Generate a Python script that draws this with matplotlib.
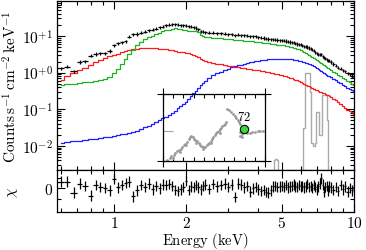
import numpy as np
import matplotlib
matplotlib.use('Agg')
import matplotlib.pyplot as plt
from matplotlib.ticker import FixedLocator, FuncFormatter, NullFormatter, LogLocator

plt.rcParams['mathtext.fontset'] = 'cm'
plt.rcParams['font.family'] = 'serif'
plt.rcParams['font.serif'] = ['DejaVu Serif']

# ---------------- data ----------------
energy = [0.60, 0.64, 0.68, 0.72, 0.76, 0.80, 0.84, 0.88, 0.92, 0.96,
          1.00, 1.04, 1.08, 1.12, 1.16, 1.20, 1.25, 1.30, 1.35, 1.40,
          1.45, 1.50, 1.55, 1.60, 1.65, 1.70, 1.75, 1.80, 1.85, 1.90,
          1.95, 2.00, 2.05, 2.10, 2.15, 2.20, 2.25, 2.30, 2.35, 2.40,
          2.50, 2.60, 2.70, 2.80, 2.90, 3.00, 3.10, 3.20, 3.30, 3.40,
          3.50, 3.60, 3.70, 3.80, 3.90, 4.00, 4.10, 4.20, 4.30, 4.40,
          4.50, 4.60, 4.70, 4.80, 4.90, 5.00, 5.10, 5.20, 5.30, 5.40,
          5.50, 5.60, 5.70, 5.80, 5.90, 6.00, 6.10, 6.20, 6.30, 6.40,
          6.50, 6.60, 6.70, 6.80, 6.90, 7.00, 7.10, 7.20, 7.30, 7.40,
          7.50, 7.60, 7.70, 7.80, 7.90, 8.00, 8.20, 8.40, 8.60, 8.80,
          9.00, 9.20, 9.40, 9.60, 9.80, 10.0]

model_green = [0.46, 0.48, 0.50, 0.52, 0.55, 0.57, 0.60, 0.63, 0.68, 0.78,
               0.95, 1.25, 1.7, 2.4, 3.2, 4.2, 5.6, 7.0, 8.2, 9.3,
               10.3, 11.3, 12.3, 13.3, 14.2, 15.0, 15.6, 16.0, 15.8, 15.2,
               14.6, 14.3, 14.0, 13.8, 13.6, 13.3, 12.6, 10.4, 9.7, 9.5,
               9.2, 9.0, 8.8, 8.6, 8.4, 8.25, 8.1, 7.95, 7.8, 7.65,
               7.5, 7.4, 7.25, 7.1, 6.95, 6.85, 6.7, 6.6, 6.45, 6.35,
               6.2, 6.1, 6.0, 5.85, 5.75, 5.65, 5.55, 5.4, 5.25, 5.1,
               4.95, 4.8, 4.6, 4.45, 4.3, 4.1, 3.9, 3.7, 3.5, 3.3,
               3.1, 2.9, 2.7, 2.5, 2.35, 2.2, 2.05, 1.9, 1.8, 1.7,
               1.6, 1.5, 1.42, 1.34, 1.26, 1.19, 1.07, 0.96, 0.87, 0.79,
               0.71, 0.65, 0.59, 0.54, 0.49, 0.45]

model_red = [0.62, 0.80, 0.98, 1.15, 1.35, 1.6, 1.9, 2.2, 2.5, 2.8,
             3.0, 3.3, 3.6, 3.9, 4.1, 4.3, 4.5, 4.65, 4.7, 4.72,
             4.7, 4.65, 4.55, 4.45, 4.35, 4.2, 4.05, 3.9, 3.75, 3.65,
             3.6, 3.5, 3.4, 3.2, 3.0, 2.85, 2.6, 2.3, 2.15, 2.05,
             1.95, 1.85, 1.75, 1.67, 1.6, 1.53, 1.47, 1.42, 1.38, 1.34,
             1.31, 1.28, 1.25, 1.21, 1.18, 1.15, 1.12, 1.09, 1.06, 1.03,
             1.0, 0.97, 0.94, 0.91, 0.88, 0.85, 0.82, 0.79, 0.76, 0.73,
             0.70, 0.67, 0.64, 0.61, 0.58, 0.55, 0.52, 0.49, 0.46, 0.44,
             0.42, 0.40, 0.38, 0.36, 0.345, 0.33, 0.315, 0.30, 0.29, 0.28,
             0.27, 0.26, 0.25, 0.24, 0.23, 0.22, 0.195, 0.175, 0.155, 0.135,
             0.12, 0.108, 0.098, 0.09, 0.083, 0.076]

model_blue = [0.0122, 0.0128, 0.0134, 0.0140, 0.0146, 0.0152, 0.0158, 0.0165, 0.0172, 0.0180,
              0.0188, 0.0196, 0.0205, 0.0215, 0.0226, 0.0240, 0.026, 0.029, 0.032, 0.036,
              0.040, 0.045, 0.050, 0.056, 0.063, 0.071, 0.080, 0.092, 0.105, 0.120,
              0.138, 0.16, 0.19, 0.23, 0.27, 0.32, 0.38, 0.45, 0.53, 0.58,
              0.70, 0.85, 0.96, 1.06, 1.16, 1.28, 1.39, 1.48, 1.57, 1.66,
              1.75, 1.84, 1.93, 2.0, 2.07, 2.13, 2.19, 2.24, 2.28, 2.32,
              2.35, 2.38, 2.39, 2.40, 2.40, 2.40, 2.39, 2.38, 2.36, 2.33,
              2.30, 2.27, 2.22, 2.17, 2.11, 2.05, 1.98, 1.91, 1.85, 1.79,
              1.74, 1.70, 1.62, 1.52, 1.40, 1.30, 1.22, 1.16, 1.10, 1.04,
              0.98, 0.93, 0.88, 0.83, 0.79, 0.75, 0.68, 0.61, 0.56, 0.51,
              0.47, 0.43, 0.39, 0.36, 0.33, 0.30]

counts = [1.30, 1.45, 1.10, 1.95, 2.05, 2.9, 3.25, 3.35, 3.4, 3.9,
          5.5, 6.4, 6.8, 7.2, 9.6, 11.0, 11.4, 12.2, 13.0, 14.2,
          15.0, 15.8, 17.2, 18.0, 19.6, 20.4, 21.2, 21.0, 20.2, 19.8,
          19.6, 19.0, 18.4, 18.0, 17.4, 16.6, 15.4, 13.6, 13.0, 12.6,
          12.3, 12.4, 12.0, 11.9, 11.6, 11.3, 11.2, 10.6, 10.9, 10.6,
          10.4, 10.3, 9.9, 9.8, 9.7, 9.3, 9.0, 8.8, 8.4, 8.3,
          8.2, 8.1, 7.95, 7.8, 7.6, 7.55, 7.4, 7.3, 7.0, 6.9,
          6.7, 6.6, 6.3, 6.1, 6.0, 5.8, 5.65, 5.3, 5.15, 5.0,
          4.7, 4.55, 4.2, 3.95, 3.6, 3.35, 3.2, 3.1, 3.15, 2.8,
          2.55, 2.5, 2.35, 2.1, 2.1, 1.97, 1.72, 1.56, 1.36, 1.28,
          1.15, 1.09, 0.95, 0.91, 0.81, 0.77]

residuals = [1.3, 1.3, -0.8, 0.9, 0.5, -1.4, 0.6, 0.3, 0.1, -0.4,
             1.8, 0.2, 0.6, 1.0, 1.3, -1.5, -0.4, 0.6, 0.3, 0.9,
             -0.2, 0.5, 0.0, 0.7, 0.6, 0.8, 0.5, -0.3, -0.5, -0.2,
             0.3, 1.4, -0.3, 0.4, 0.3, 0.6, 0.2, -0.2, 0.5, 0.7,
             -0.1, 0.8, 0.4, 0.6, 0.9, 0.3, 0.7, -1.6, 0.9, 0.7,
             0.2, 0.5, -0.6, 0.0, 0.3, -0.2, -0.5, -0.3, -0.7, -0.8,
             -0.4, 0.4, 0.5, 0.3, 0.4, 0.5, 0.3, 0.6, 0.2, 0.4,
             0.5, 0.7, 0.4, 0.3, 0.6, 0.4, 0.5, 0.2, 0.4, 0.8,
             0.3, 0.5, 0.1, 0.6, 0.3, -0.2, 0.4, 0.9, 1.9, 0.7,
             -0.6, 0.3, 0.5, -0.4, 0.4, 0.2, -0.3, 0.3, -0.5, 0.6,
             -0.2, 0.4, -0.6, 0.1, -0.4, 0.3]
resid_err = 1.0
count_err_frac = 0.10

gray_energy = [4.60, 4.65, 4.70, 4.75, 4.80, 4.85,
               6.05, 6.10, 6.15, 6.20, 6.25, 6.30, 6.35, 6.40, 6.45, 6.50,
               6.55, 6.60, 6.65, 6.70, 6.75, 6.80, 6.85, 6.90, 6.95, 7.00,
               7.05, 7.10, 7.15, 7.20, 7.25, 7.30, 7.35, 7.40, 7.45, 7.50,
               7.55, 7.60, 7.65, 7.70, 7.75, 7.80, 7.85]
gray_flux = [0.001, 0.0042, 0.0045, 0.0045, 0.0042, 0.001,
             0.001, 0.001, 0.03, 0.03, 0.08, 1.0, 1.0, 1.0, 1.0, 1.0,
             1.0, 0.3, 0.012, 0.012, 0.012, 0.010, 0.010, 0.012, 0.02, 0.085,
             0.085, 0.085, 0.085, 0.02, 0.02, 0.02, 0.24, 0.24, 0.24, 0.24,
             0.24, 0.24, 0.24, 0.24, 0.05, 0.001, 0.001]

# inset (hardness / time track)
inset_x = [4.2, 6.5, 8.1, 10.7, 12.1, 14.0, 15.3, 17.3, 18.6, 20.5, 21.8, 23.8,
           25.1, 26.4, 27.7, 29.0, 30.3, 31.6, 33.6, 34.9, 36.2, 37.5, 38.8, 40.1,
           41.4, 42.7, 44.0, 45.3, 46.6, 47.9, 49.2, 50.5, 51.8, 53.1, 54.4, 55.7,
           57.0, 58.3, 59.6, 60.9, 62.2,
           62.9, 64.8, 66.8, 68.7, 70.7, 72.0, 73.3, 74.6, 75.9,
           75.9, 77.2, 75.2, 77.9, 80.5, 82.4, 85.0, 87.6, 90.2, 92.8, 95.4, 98.0,
           9.8, 16.3, 22.8, 32.6, 39.1, 47.2, 55.4]
inset_y = [1.5, 5.0, 7.5, 9.5, 12.5, 14.5, 16.5, 18.5, 20.5, 23.5, 25.5, 28.5,
           32.5, 35.5, 37.5, 36.5, 33.5, 31.5, 29.5, 27.5, 24.5, 22.5, 21.5, 20.5,
           21.5, 23.5, 25.5, 27.5, 29.5, 32.5, 35.5, 38.5, 41.5, 43.5, 45.5, 47.5,
           49.5, 51.5, 53.5, 55.5, 57.5,
           77.5, 75.5, 73.5, 70.5, 67.5, 63.5, 60.5, 57.5, 54.5,
           43.5, 40.5, 37.5, 36.5, 44.5, 41.5, 42.5, 43.5, 43.5, 44.5, 44.5, 45.5,
           5.0, 13.5, 23.5, 27.5, 18.5, 26.5, 42.5]
highlight_x = [79.2]
highlight_y = [48.5]
highlight_label = '72'

# ---------------- figure ----------------
E = np.array(energy)
edges = np.concatenate([[E[0] - (E[1] - E[0]) / 2],
                        (E[1:] + E[:-1]) / 2,
                        [E[-1] + (E[-1] - E[-2]) / 2]])
xlo = E - edges[:-1]
xhi = edges[1:] - E
C = np.array(counts)

fig = plt.figure(figsize=(3.66, 2.51), dpi=100)
ax = fig.add_axes([0.1557, 0.3187, 0.8115, 0.6733])
axr = fig.add_axes([0.1557, 0.1514, 0.8115, 0.1673])

ax.step(gray_energy, gray_flux, where='mid', color='#aaaaaa', lw=1.0, zorder=1)
ax.step(energy, model_blue, where='mid', color='#1f1fff', lw=0.9, zorder=2)
ax.step(energy, model_red, where='mid', color='#ff1a1a', lw=0.9, zorder=2)
ax.step(energy, model_green, where='mid', color='#1fb41f', lw=0.9, zorder=2)
ax.errorbar(energy, counts, xerr=[xlo, xhi], yerr=C * count_err_frac,
            fmt='none', ecolor='black', elinewidth=0.9, capsize=0, zorder=3)

ax.set_xscale('log')
ax.set_yscale('log')
ax.set_xlim(0.58, 10.0)
ax.set_ylim(2.2e-3, 90)

axr.errorbar(energy, residuals, xerr=[xlo, xhi], yerr=resid_err,
             fmt='none', ecolor='black', elinewidth=0.9, capsize=0)
axr.set_xscale('log')
axr.set_xlim(0.58, 10.0)
axr.set_ylim(-4.5, 3.5)

major_x = [1, 2, 5, 10]
minor_x = [0.6, 0.7, 0.8, 0.9, 3, 4, 6, 7, 8, 9]
for a in (ax, axr):
    a.xaxis.set_major_locator(FixedLocator(major_x))
    a.xaxis.set_minor_locator(FixedLocator(minor_x))
    a.tick_params(which='both', direction='in', top=True, right=True, width=0.8)
    a.tick_params(which='major', length=5.5)
    a.tick_params(which='minor', length=3)
    for s in a.spines.values():
        s.set_linewidth(0.9)

ax.xaxis.set_major_formatter(NullFormatter())
ax.xaxis.set_minor_formatter(NullFormatter())
axr.xaxis.set_major_formatter(FuncFormatter(lambda v, p: r'$%d$' % v))
axr.xaxis.set_minor_formatter(NullFormatter())

ax.yaxis.set_major_locator(LogLocator(base=10, numticks=10))
ax.yaxis.set_minor_locator(LogLocator(base=10, subs=np.arange(2, 10), numticks=20))
ax.yaxis.set_major_formatter(FuncFormatter(lambda v, p: r'$10^{%+d}$' % int(round(np.log10(v)))))
ax.yaxis.set_minor_formatter(NullFormatter())

axr.yaxis.set_major_locator(FixedLocator([0]))
axr.yaxis.set_minor_locator(FixedLocator([-2, 2]))
axr.yaxis.set_major_formatter(FuncFormatter(lambda v, p: r'$0$'))

for a in (ax, axr):
    a.tick_params(labelsize=11, pad=3)
axr.tick_params(axis='x', pad=2)

ax.set_ylabel(r'$\mathrm{Counts\,s^{-1}\,cm^{-2}\,keV^{-1}}$', fontsize=11)
ax.yaxis.set_label_coords(-0.125, 0.5)
axr.set_ylabel(r'$\chi$', fontsize=11, rotation=90)
axr.yaxis.set_label_coords(-0.125, 0.5)
axr.set_xlabel(r'$\mathrm{Energy\ (keV)}$', fontsize=10.5, labelpad=0)

# inset
axi = fig.add_axes([0.4454, 0.3546, 0.2787, 0.2669], facecolor='none')
axi.plot(inset_x, inset_y, 'o', ms=2.0, color='#999999', mec='none')
axi.plot(highlight_x, highlight_y, 'o', ms=6, mfc='#33dd33', mec='black', mew=0.8)
axi.text(highlight_x[0], highlight_y[0] + 8, r'$%s$' % highlight_label,
         ha='center', va='bottom', fontsize=9)
axi.set_xlim(0, 100)
axi.set_ylim(0, 100)
axi.xaxis.set_major_locator(FixedLocator([0, 100]))
axi.xaxis.set_minor_locator(FixedLocator(list(range(10, 100, 10))))
axi.yaxis.set_major_locator(FixedLocator([0, 100]))
axi.yaxis.set_minor_locator(FixedLocator([45]))
axi.tick_params(which='major', direction='inout', length=8, width=0.8,
                top=True, right=True, labelbottom=False, labelleft=False)
axi.tick_params(axis='x', which='minor', direction='in', length=3, width=0.8, top=True)
axi.tick_params(axis='y', which='minor', direction='in', length=7, width=0.9,
                left=True, right=False, color='#aaaaaa')
for s in axi.spines.values():
    s.set_linewidth(0.9)

fig.savefig('out.png', dpi=100)
